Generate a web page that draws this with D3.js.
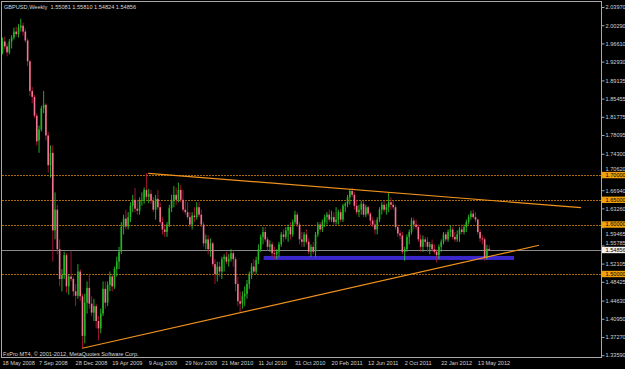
<!DOCTYPE html>
<html><head><meta charset="utf-8">
<script src="https://cdn.jsdelivr.net/npm/d3@7"></script>
<style>html,body{margin:0;padding:0;background:#000;overflow:hidden}</style>
</head><body><svg id="c" width="625" height="369"></svg>
<script>
// Weekly GBPUSD bars, 18 May 2008 .. June 2012 (one value per week)
const open=[
1.9480,1.9700,1.9600,1.9480,1.9700,1.9780,1.9900,1.9850,1.9980,2.0020,
1.9900,1.9720,1.9300,1.8700,1.8580,1.8200,1.7700,1.7920,1.8350,1.8420,
1.7800,1.7200,1.7450,1.5880,1.6300,1.5500,1.4900,1.4980,1.5380,1.4750,
1.4950,1.4900,1.4650,1.4560,1.5050,1.4550,1.3750,1.4420,1.4720,1.4400,
1.4220,1.4350,1.4050,1.3900,1.4200,1.4700,1.4420,1.4780,1.4950,1.4750,
1.5100,1.5250,1.5450,1.5950,1.6120,1.5960,1.6150,1.6380,1.6500,1.6320,
1.6280,1.6480,1.6500,1.6700,1.6560,1.6620,1.6480,1.6300,1.6520,1.6350,
1.6050,1.5900,1.5850,1.6000,1.6330,1.6500,1.6600,1.6500,1.6700,1.6500,
1.6300,1.6250,1.6150,1.6000,1.6180,1.6150,1.6350,1.6200,1.6000,1.5620,
1.5700,1.5500,1.5620,1.5200,1.5000,1.5150,1.5050,1.5300,1.5350,1.5250,
1.5300,1.5420,1.5300,1.4800,1.4450,1.4400,1.4550,1.4600,1.4800,1.4980,
1.5150,1.5050,1.5280,1.5500,1.5750,1.5850,1.5700,1.5550,1.5600,1.5420,
1.5400,1.5450,1.5600,1.5800,1.5750,1.5880,1.5950,1.5800,1.6050,1.6200,
1.6000,1.5700,1.5650,1.5800,1.5650,1.5450,1.5550,1.5450,1.5800,1.6000,
1.5900,1.6050,1.6150,1.6200,1.6100,1.6150,1.6050,1.6100,1.6250,1.6100,
1.6380,1.6420,1.6550,1.6680,1.6600,1.6380,1.6250,1.6300,1.6420,1.6200,
1.6350,1.6220,1.6080,1.6000,1.5900,1.6100,1.6300,1.6400,1.6300,1.6350,
1.6450,1.6400,1.6350,1.5950,1.5820,1.5780,1.5450,1.5500,1.5750,1.5850,
1.6080,1.6000,1.5950,1.5700,1.5550,1.5700,1.5650,1.5550,1.5600,1.5500,
1.5450,1.5380,1.5550,1.5650,1.5800,1.5700,1.5850,1.5900,1.5750,1.5700,
1.5800,1.5900,1.5850,1.5950,1.6050,1.6150,1.6220,1.6150,1.6100,1.5850,
1.5720,1.5700,1.5330,1.55081];
const high=[
1.9780,1.9800,1.9660,1.9750,1.9830,1.9980,2.0000,2.0050,2.0160,2.0080,
1.9960,1.9760,1.9320,1.8780,1.8620,1.8250,1.8000,1.8400,1.8700,1.8450,
1.7870,1.7600,1.7600,1.6650,1.6400,1.5700,1.5100,1.5450,1.5420,1.5000,
1.5460,1.4950,1.4800,1.5200,1.5100,1.4600,1.4600,1.4850,1.5000,1.4550,
1.4500,1.4400,1.4150,1.4300,1.4850,1.4850,1.4850,1.5050,1.5000,1.5150,
1.5350,1.5550,1.6050,1.6200,1.6300,1.6250,1.6450,1.6600,1.6740,1.6500,
1.6550,1.6650,1.6750,1.7040,1.6720,1.6700,1.6560,1.6600,1.6700,1.6450,
1.6150,1.6000,1.6050,1.6400,1.6600,1.6780,1.6750,1.6850,1.6800,1.6700,
1.6500,1.6450,1.6250,1.6250,1.6350,1.6450,1.6450,1.6300,1.6050,1.5800,
1.5780,1.5720,1.5650,1.5300,1.5250,1.5250,1.5350,1.5400,1.5450,1.5400,
1.5500,1.5480,1.5350,1.4950,1.4650,1.4650,1.4750,1.4880,1.5050,1.5220,
1.5300,1.5350,1.5600,1.5800,1.5950,1.5950,1.5750,1.5680,1.5650,1.5550,
1.5500,1.5650,1.5850,1.5900,1.5950,1.6000,1.6050,1.6100,1.6280,1.6250,
1.6050,1.5850,1.5850,1.5900,1.5720,1.5600,1.5650,1.5850,1.6050,1.6050,
1.6100,1.6200,1.6250,1.6300,1.6280,1.6250,1.6350,1.6300,1.6320,1.6420,
1.6450,1.6600,1.6720,1.6746,1.6650,1.6500,1.6400,1.6480,1.6480,1.6400,
1.6380,1.6250,1.6150,1.6100,1.6150,1.6350,1.6450,1.6480,1.6420,1.6640,
1.6550,1.6480,1.6400,1.6000,1.5880,1.5850,1.5550,1.5800,1.5900,1.6140,
1.6140,1.6100,1.6000,1.5800,1.5780,1.5750,1.5750,1.5650,1.5700,1.5600,
1.5500,1.5600,1.5700,1.5850,1.5850,1.5900,1.5980,1.5950,1.5850,1.5880,
1.5950,1.6000,1.6000,1.6100,1.6200,1.6280,1.6300,1.6250,1.6120,1.5900,
1.5780,1.5740,1.5590,1.55810];
const low=[
1.9440,1.9540,1.9400,1.9440,1.9560,1.9740,1.9800,1.9780,1.9900,1.9820,
1.9680,1.9200,1.8600,1.8450,1.8150,1.7600,1.7450,1.7880,1.8250,1.7700,
1.7050,1.6950,1.5250,1.5700,1.5400,1.4750,1.4650,1.4900,1.4620,1.4580,
1.4850,1.4550,1.4350,1.4500,1.4450,1.3500,1.3600,1.4200,1.4300,1.4150,
1.4050,1.3900,1.3660,1.3800,1.4150,1.4300,1.4350,1.4650,1.4650,1.4700,
1.4950,1.5100,1.5400,1.5800,1.5900,1.5900,1.6050,1.6250,1.6250,1.6200,
1.6200,1.6380,1.6420,1.6500,1.6430,1.6420,1.6250,1.6100,1.6300,1.6000,
1.5800,1.5750,1.5750,1.5950,1.6250,1.6350,1.6400,1.6450,1.6450,1.6250,
1.6200,1.6100,1.5950,1.5900,1.6050,1.6100,1.6150,1.5950,1.5550,1.5500,
1.5400,1.5350,1.5150,1.4800,1.4850,1.4950,1.4900,1.5050,1.5200,1.5150,
1.5250,1.5150,1.4650,1.4350,1.4230,1.4300,1.4350,1.4500,1.4700,1.4900,
1.5000,1.5000,1.5200,1.5450,1.5600,1.5650,1.5480,1.5450,1.5350,1.5300,
1.5300,1.5350,1.5550,1.5650,1.5700,1.5650,1.5700,1.5750,1.6000,1.5950,
1.5600,1.5550,1.5550,1.5600,1.5400,1.5350,1.5400,1.5350,1.5750,1.5850,
1.5850,1.5950,1.6000,1.6050,1.6050,1.6000,1.6000,1.6000,1.6050,1.6050,
1.6250,1.6350,1.6400,1.6550,1.6300,1.6200,1.6150,1.6200,1.6150,1.6150,
1.6180,1.5980,1.5950,1.5800,1.5800,1.6050,1.6200,1.6250,1.6200,1.6250,
1.6300,1.6300,1.5900,1.5750,1.5700,1.5400,1.5270,1.5450,1.5600,1.5800,
1.5900,1.5900,1.5650,1.5450,1.5450,1.5550,1.5450,1.5400,1.5450,1.5400,
1.5235,1.5300,1.5450,1.5600,1.5650,1.5650,1.5750,1.5700,1.5650,1.5650,
1.5650,1.5800,1.5800,1.5850,1.6000,1.6100,1.6120,1.6050,1.5800,1.5650,
1.5600,1.5269,1.5290,1.54824];
const close=[
1.9700,1.9600,1.9480,1.9700,1.9780,1.9900,1.9850,1.9980,2.0020,1.9900,
1.9720,1.9300,1.8700,1.8580,1.8200,1.7680,1.7920,1.8350,1.8420,1.7800,
1.7200,1.7450,1.5880,1.6300,1.5500,1.4900,1.4980,1.5380,1.4750,1.4950,
1.4900,1.4650,1.4560,1.5050,1.4550,1.3750,1.4420,1.4720,1.4400,1.4220,
1.4350,1.4050,1.3900,1.4200,1.4700,1.4420,1.4780,1.4950,1.4750,1.5100,
1.5250,1.5450,1.5950,1.6120,1.5960,1.6150,1.6380,1.6500,1.6320,1.6280,
1.6480,1.6500,1.6700,1.6560,1.6620,1.6480,1.6300,1.6520,1.6350,1.6050,
1.5900,1.5850,1.6000,1.6330,1.6500,1.6600,1.6500,1.6700,1.6500,1.6300,
1.6250,1.6150,1.6000,1.6180,1.6150,1.6350,1.6200,1.6000,1.5620,1.5700,
1.5500,1.5620,1.5200,1.5000,1.5150,1.5050,1.5300,1.5350,1.5250,1.5300,
1.5420,1.5300,1.4800,1.4450,1.4400,1.4550,1.4600,1.4800,1.4980,1.5150,
1.5050,1.5280,1.5500,1.5750,1.5850,1.5700,1.5550,1.5600,1.5420,1.5400,
1.5450,1.5600,1.5800,1.5750,1.5880,1.5950,1.5800,1.6050,1.6200,1.6000,
1.5700,1.5650,1.5800,1.5650,1.5450,1.5550,1.5450,1.5800,1.6000,1.5900,
1.6050,1.6150,1.6200,1.6100,1.6150,1.6050,1.6100,1.6250,1.6100,1.6380,
1.6420,1.6550,1.6680,1.6600,1.6380,1.6250,1.6300,1.6420,1.6200,1.6350,
1.6220,1.6080,1.6000,1.5900,1.6100,1.6300,1.6400,1.6300,1.6350,1.6450,
1.6400,1.6350,1.5950,1.5820,1.5780,1.5450,1.5500,1.5750,1.5850,1.6080,
1.6000,1.5950,1.5700,1.5550,1.5700,1.5650,1.5550,1.5600,1.5500,1.5450,
1.5380,1.5550,1.5650,1.5800,1.5700,1.5850,1.5900,1.5750,1.5700,1.5800,
1.5900,1.5850,1.5950,1.6050,1.6150,1.6220,1.6150,1.6100,1.5850,1.5720,
1.5700,1.5330,1.5510,1.54856];

const priceTicks=[2.03970,2.00290,1.96610,1.92930,1.89135,1.85455,1.81775,1.78095,1.74300,1.70620,
  1.66940,1.63260,1.59465,1.55785,1.52105,1.48425,1.44630,1.40950,1.37270,1.33590];
const levels=[1.70,1.65,1.60,1.50];
const bidPrice=1.54856;
const dateLabels=["18 May 2008","7 Sep 2008","28 Dec 2008","19 Apr 2009","9 Aug 2009","29 Nov 2009",
  "21 Mar 2010","11 Jul 2010","31 Oct 2010","20 Feb 2011","12 Jun 2011","2 Oct 2011","22 Jan 2012","13 May 2012"];
const dateBars=[0,16,32,48,64,80,96,112,128,144,160,176,192,208];
const upperTrend=[[63.8,1.7036],[253.2,1.6341]];
const lowerTrend=[[34.9,1.3499],[234.8,1.5581]];
const zone={from:114.3,to:223.9,top:1.5365,bottom:1.5284};
const titleText="GBPUSD,Weekly  1.55081 1.55810 1.54824 1.54856";
const footText="FxPro MT4, \u00a9 2001-2012, MetaQuotes Software Corp.";

const svg=d3.select("#c");
const FONT="'Liberation Sans', Arial, sans-serif";
const FS="5.6px";
svg.append("rect").attr("width",625).attr("height",369).attr("fill","#000");

const n=open.length;
const x=d3.scaleLinear().domain([0,213]).range([2.5,2.5+213*2.285]);
const y=d3.scaleLinear().domain([1.3359,2.0397]).range([355.2,7]);

// horizontal dotted levels
svg.selectAll(".lvl").data(levels).enter().append("line")
  .attr("x1",2).attr("x2",601).attr("y1",d=>Math.round(y(d))+0.5).attr("y2",d=>Math.round(y(d))+0.5)
  .attr("stroke","#a8680f").attr("stroke-width",1).attr("stroke-dasharray","2,1");

// support zone rectangle
svg.append("rect").attr("x",x(zone.from)).attr("width",x(zone.to)-x(zone.from))
  .attr("y",y(zone.top)).attr("height",y(zone.bottom)-y(zone.top)).attr("fill","#3b27cc");

// bid line
svg.append("line").attr("x1",2).attr("x2",601)
  .attr("y1",Math.round(y(bidPrice))+0.5).attr("y2",Math.round(y(bidPrice))+0.5)
  .attr("stroke","#8a8a8a").attr("stroke-width",1);

// candles
const idx=d3.range(n);
const g=svg.append("g");
g.selectAll(".wick").data(idx).enter().append("line")
  .attr("x1",i=>x(i)).attr("x2",i=>x(i)).attr("y1",i=>y(high[i])).attr("y2",i=>y(low[i]))
  .attr("stroke",i=>close[i]>=open[i]?"#2fd42f":"#c8183f").attr("stroke-width",0.8);
g.selectAll(".body").data(idx).enter().append("rect")
  .attr("x",i=>x(i)-0.8).attr("width",1.6)
  .attr("y",i=>y(Math.max(open[i],close[i])))
  .attr("height",i=>Math.max(0.8,Math.abs(y(open[i])-y(close[i]))))
  .attr("fill",i=>close[i]>=open[i]?"#22b822":"#f27492");

// trend lines
const line=d3.line().x(d=>x(d[0])).y(d=>y(d[1]));
[upperTrend,lowerTrend].forEach(t=>{
  svg.append("path").attr("d",line(t)).attr("fill","none").attr("stroke","#f0921c").attr("stroke-width",1.2);
});

// frame
svg.append("rect").attr("x",1.5).attr("y",1.5).attr("width",600).attr("height",356)
  .attr("fill","none").attr("stroke","#a8a8a8").attr("stroke-width",1);

// price axis (labels partly covered by the level boxes are nudged clear of them)
const nudge={"1.70620":-3.6,"1.59465":6.8,"1.55785":-2.4};
const ya=d3.axisRight(y).tickValues(priceTicks).tickFormat(d3.format(".5f")).tickSize(3).tickPadding(1).tickSizeOuter(0);
const yg=svg.append("g").attr("transform","translate(601.5,0)").call(ya);
yg.select(".domain").remove();
yg.selectAll("line").attr("stroke","#a8a8a8");
yg.selectAll("text").attr("fill","#d0d0d0").attr("font-family",FONT).attr("font-size",FS)
  .attr("y",d=>nudge[d3.format(".5f")(d)]||0);

// level boxes
const boxes=levels.map(v=>({v,bg:"#f0a20c"})).concat([{v:bidPrice,bg:"#f2f2f2"}]);
const bg=svg.append("g");
boxes.forEach(b=>{
  const yy=y(b.v);
  bg.append("rect").attr("x",602).attr("y",yy-3.2).attr("width",23).attr("height",6.4).attr("fill",b.bg);
  bg.append("text").attr("x",605.5).attr("y",yy).attr("dy","0.34em").attr("fill","#000")
    .attr("font-family",FONT).attr("font-size",FS).text(d3.format(".5f")(b.v));
});

// time axis labels
const xa=d3.axisBottom(x).tickValues(dateBars).tickFormat((d,i)=>dateLabels[i]).tickSize(0).tickPadding(0);
const xg=svg.append("g").attr("transform","translate(0,360)").call(xa);
xg.select(".domain").remove();
xg.selectAll("text").attr("text-anchor","start").attr("dx","-0.5").attr("dy","0")
  .attr("y",4.5).attr("fill","#d0d0d0").attr("font-family",FONT).attr("font-size",FS);

// title and footer
svg.append("text").attr("x",4).attr("y",8.5).attr("fill","#d8d8d8").attr("font-family",FONT)
  .attr("font-size",FS).attr("xml:space","preserve").style("white-space","pre").text(titleText);
svg.append("text").attr("x",3).attr("y",356).attr("fill","#d8d8d8").attr("font-family",FONT)
  .attr("font-size",FS).text(footText);
</script></body></html>
